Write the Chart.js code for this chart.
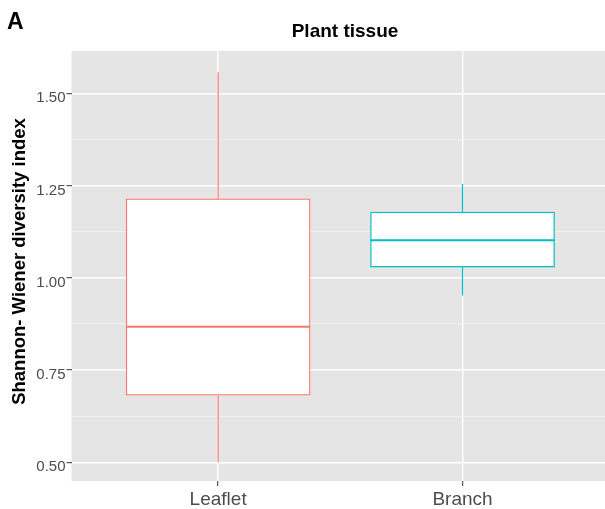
<!DOCTYPE html>
<html>
<head>
<meta charset="utf-8">
<script src="https://cdn.jsdelivr.net/npm/chart.js@4/dist/chart.umd.min.js"></script>
<style>
  html, body { margin: 0; padding: 0; background: #ffffff; }
  #wrap { width: 605px; height: 509px; }
</style>
</head>
<body>
<div id="wrap"><canvas id="c" width="605" height="509"></canvas></div>
<script>
// Five-number summaries of the Shannon-Wiener index per plant tissue
const groups = ['Leaflet', 'Branch'];
const groupPos = [1, 2];
const lowerWhisker = [0.500, 0.952];
const lowerQuartile = [0.682, 1.029];
const medianValue = [0.867, 1.102];
const upperQuartile = [1.214, 1.178];
const upperWhisker = [1.557, 1.254];
const groupColors = ['#F8766D', '#00BFC4'];

// Axis ticks
const yMajorTicks = [0.50, 0.75, 1.00, 1.25, 1.50];
const yMinorTicks = [0.625, 0.875, 1.125, 1.375];

const panelBg = '#E5E5E5';
const tickTextColor = '#4D4D4D';
const fontFamily = '"Liberation Sans", Arial, Helvetica, sans-serif';

const isMajorY = v => yMajorTicks.some(t => Math.abs(t - v) < 1e-6);

// Grey panel behind the plotting area
const panelPlugin = {
  id: 'panel',
  beforeDraw(chart) {
    const { ctx, chartArea: a } = chart;
    ctx.save();
    ctx.fillStyle = panelBg;
    ctx.fillRect(a.left, a.top, a.right - a.left, a.bottom - a.top);
    ctx.restore();
  }
};

// Whiskers and median lines on top of the boxes
const boxLinesPlugin = {
  id: 'boxLines',
  afterDatasetsDraw(chart) {
    const { ctx, scales: { y } } = chart;
    const meta = chart.getDatasetMeta(0);
    ctx.save();
    groups.forEach((g, i) => {
      const bar = meta.data[i];
      const cx = bar.x;
      const half = bar.width / 2;
      ctx.strokeStyle = groupColors[i];
      ctx.lineWidth = 1.2;
      ctx.beginPath();
      ctx.moveTo(cx, y.getPixelForValue(upperWhisker[i]));
      ctx.lineTo(cx, y.getPixelForValue(upperQuartile[i]));
      ctx.moveTo(cx, y.getPixelForValue(lowerQuartile[i]));
      ctx.lineTo(cx, y.getPixelForValue(lowerWhisker[i]));
      ctx.stroke();
      ctx.lineWidth = 2;
      const my = y.getPixelForValue(medianValue[i]);
      ctx.beginPath();
      ctx.moveTo(cx - half, my);
      ctx.lineTo(cx + half, my);
      ctx.stroke();
    });
    ctx.restore();
  }
};

// Panel tag, plot title and y-axis title
const textPlugin = {
  id: 'texts',
  afterDraw(chart) {
    const { ctx } = chart;
    ctx.save();
    ctx.fillStyle = '#000000';
    ctx.textBaseline = 'alphabetic';
    ctx.textAlign = 'left';
    ctx.font = 'bold 23px ' + fontFamily;
    ctx.fillText('A', 7, 29);

    ctx.textAlign = 'center';
    ctx.font = 'bold 19px ' + fontFamily;
    ctx.fillText('Plant tissue', 345, 37);

    ctx.translate(25, 261.5);
    ctx.rotate(-Math.PI / 2);
    ctx.font = 'bold 18.5px ' + fontFamily;
    ctx.fillText('Shannon- Wiener diversity index', 0, 0);
    ctx.restore();
  }
};

new Chart(document.getElementById('c'), {
  type: 'bar',
  data: {
    datasets: [{
      data: groups.map((g, i) => ({ x: groupPos[i], y: [lowerQuartile[i], upperQuartile[i]] })),
      backgroundColor: '#FFFFFF',
      borderColor: groupColors,
      borderWidth: 1.3,
      borderSkipped: false,
      barThickness: 184
    }]
  },
  options: {
    responsive: false,
    devicePixelRatio: 1,
    animation: false,
    layout: { padding: { top: 51, right: 0, bottom: 0, left: 0 } },
    plugins: {
      legend: { display: false },
      title: { display: false },
      tooltip: { enabled: false }
    },
    scales: {
      x: {
        type: 'linear',
        offset: false,
        min: 0.4,
        max: 2.583,
        afterBuildTicks: s => { s.ticks = groupPos.map(v => ({ value: v })); },
        afterFit: s => { s.height = 28; },
        border: { display: false },
        grid: {
          offset: false,
          color: '#FFFFFF',
          lineWidth: 1.4,
          tickColor: '#333333',
          tickWidth: 1,
          tickLength: 5
        },
        ticks: {
          color: tickTextColor,
          font: { family: fontFamily, size: 19 },
          padding: 2,
          maxRotation: 0,
          autoSkip: false,
          callback: v => {
            const i = groupPos.indexOf(v);
            return i >= 0 ? groups[i] : '';
          }
        }
      },
      y: {
        type: 'linear',
        min: 0.4493,
        max: 1.6146,
        afterBuildTicks: s => {
          s.ticks = yMajorTicks.concat(yMinorTicks).sort((a, b) => a - b).map(v => ({ value: v }));
        },
        afterFit: s => { s.width = 71.5; },
        border: { display: false },
        grid: {
          color: c => isMajorY(c.tick.value) ? '#FFFFFF' : '#F4F4F4',
          lineWidth: c => isMajorY(c.tick.value) ? 1.4 : 0.8,
          tickColor: c => isMajorY(c.tick.value) ? '#333333' : 'rgba(0,0,0,0)',
          tickWidth: 1,
          tickLength: 5
        },
        ticks: {
          color: tickTextColor,
          font: { family: fontFamily, size: 15 },
          padding: 1,
          labelOffset: 5,
          autoSkip: false,
          callback: v => isMajorY(v) ? v.toFixed(2) : ''
        }
      }
    }
  },
  plugins: [panelPlugin, boxLinesPlugin, textPlugin]
});
</script>
</body>
</html>
